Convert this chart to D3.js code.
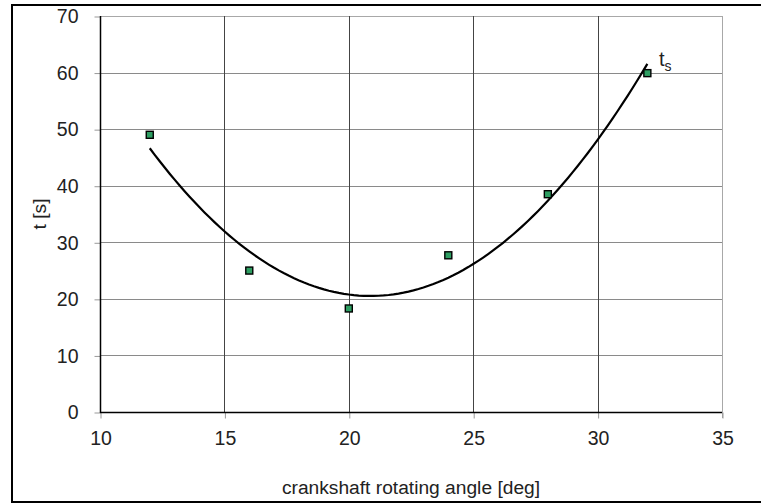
<!DOCTYPE html>
<html><head><meta charset="utf-8">
<script src="https://cdn.jsdelivr.net/npm/d3@7/dist/d3.min.js"></script>
<style>body{margin:0;background:#fff}svg{display:block}text{font-family:"Liberation Sans",Arial,sans-serif;fill:#222}</style>
</head><body>
<svg id="c" width="761" height="504"></svg>
<script>
const angles = [12, 16, 20, 24, 28, 32];
const times = [49, 25, 18.3, 27.7, 38.5, 59.9];
const xTicks = [10, 15, 20, 25, 30, 35];
const yTicks = [0, 10, 20, 30, 40, 50, 60, 70];
const xTitle = "crankshaft rotating angle [deg]";
const yTitle = "t [s]";
const seriesLabel = "t";
const seriesSub = "s";

const svg = d3.select("#c");
const x = d3.scaleLinear().domain([10, 35]).range([100, 722]);
const y = d3.scaleLinear().domain([0, 70]).range([412, 16]);
const FF = '"Liberation Sans",Arial,sans-serif';

// outer border
svg.append("rect").attr("x", 12).attr("y", 5).attr("width", 800).attr("height", 497)
  .attr("fill", "none").attr("stroke", "#000").attr("stroke-width", 2);

// horizontal gridlines
svg.append("g").selectAll("line").data(yTicks.filter(d => d > 0)).join("line")
  .attr("x1", 100).attr("x2", 722)
  .attr("y1", d => Math.round(y(d)) + 0.5).attr("y2", d => Math.round(y(d)) + 0.5)
  .attr("stroke", d => d === 70 ? "#a8a8a8" : "#8a8a8a").attr("stroke-width", 1);
// vertical gridlines
svg.append("g").selectAll("line").data(xTicks.filter(d => d > 10)).join("line")
  .attr("x1", d => Math.round(x(d)) + 0.5).attr("x2", d => Math.round(x(d)) + 0.5)
  .attr("y1", 16).attr("y2", d => d === 35 ? 418 : 412)
  .attr("stroke", d => d === 35 ? "#a8a8a8" : "#444").attr("stroke-width", 1);

// y axis with ticks
const yAxis = d3.axisLeft(y).tickValues(yTicks).tickSize(6).tickPadding(16).tickFormat(d3.format("d"));
const gy = svg.append("g").attr("transform", "translate(100.5,0.5)").call(yAxis);
gy.select(".domain").remove();
gy.selectAll(".tick line").attr("stroke", "#999");
gy.selectAll(".tick text").attr("font-size", 19.5).style("font-family", FF).attr("fill", "#222");

const xAxis = d3.axisBottom(x).tickValues(xTicks).tickSize(6).tickPadding(13).tickFormat(d3.format("d"));
const gx = svg.append("g").attr("transform", "translate(0.5,412.5)").call(xAxis);
gx.select(".domain").remove();
gx.selectAll(".tick line").attr("stroke", "#999");
gx.selectAll(".tick text").attr("font-size", 19.5).style("font-family", FF).attr("fill", "#222");

// axis lines
svg.append("line").attr("x1", 100.5).attr("x2", 100.5).attr("y1", 16).attr("y2", 413).attr("stroke", "#000").attr("stroke-width", 1.5);
svg.append("line").attr("x1", 100).attr("x2", 722).attr("y1", 412.5).attr("y2", 412.5).attr("stroke", "#000").attr("stroke-width", 1.5);

// polynomial (order 2) least squares trendline from the data
function polyfit2(xs, ys) {
  let S = [0,0,0,0,0], T = [0,0,0];
  xs.forEach((xv, i) => {
    for (let k = 0; k < 5; k++) S[k] += Math.pow(xv, k);
    for (let k = 0; k < 3; k++) T[k] += ys[i] * Math.pow(xv, k);
  });
  const A = [[S[0],S[1],S[2],T[0]],[S[1],S[2],S[3],T[1]],[S[2],S[3],S[4],T[2]]];
  for (let i = 0; i < 3; i++) {
    for (let j = i + 1; j < 3; j++) {
      const f = A[j][i] / A[i][i];
      for (let k = i; k < 4; k++) A[j][k] -= f * A[i][k];
    }
  }
  const c = [0,0,0];
  for (let i = 2; i >= 0; i--) {
    let s = A[i][3];
    for (let k = i + 1; k < 3; k++) s -= A[i][k] * c[k];
    c[i] = s / A[i][i];
  }
  return c;
}
const coef = polyfit2(angles, times);
const xmin = d3.min(angles), xmax = d3.max(angles);
const trend = d3.range(0, 101).map(i => {
  const xv = xmin + (xmax - xmin) * i / 100;
  return [xv, coef[0] + coef[1] * xv + coef[2] * xv * xv];
});
svg.append("path").datum(trend)
  .attr("d", d3.line().x(d => x(d[0])).y(d => y(d[1])))
  .attr("fill", "none").attr("stroke", "#000").attr("stroke-width", 2.2);

// markers
svg.append("g").selectAll("rect").data(angles.map((a, i) => [a, times[i]])).join("rect")
  .attr("x", d => x(d[0]) - 3.5).attr("y", d => y(d[1]) - 3.5)
  .attr("width", 7).attr("height", 7)
  .attr("fill", "#2e9e62").attr("stroke", "#000").attr("stroke-width", 1.4);

// series label
const lbl = svg.append("text").attr("x", 659).attr("y", 66).attr("font-size", 20);
lbl.append("tspan").text(seriesLabel);
lbl.append("tspan").attr("font-size", 14).attr("dy", 5).text(seriesSub);

// axis titles
svg.append("text").attr("x", 411).attr("y", 494).attr("text-anchor", "middle").attr("font-size", 19.2).text(xTitle);
svg.append("text").attr("transform", "translate(46,214) rotate(-90)").attr("text-anchor", "middle").attr("font-size", 19.2).text(yTitle);
</script>
</body></html>
